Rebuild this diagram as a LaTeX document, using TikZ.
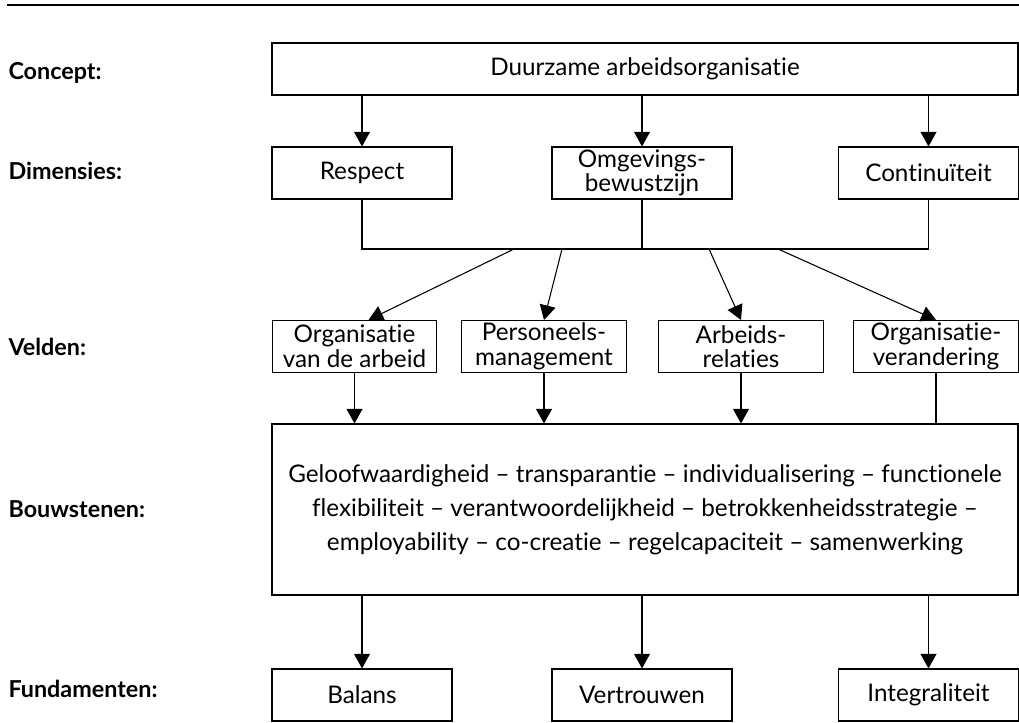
\documentclass[tikz,border=0pt]{standalone}
\usepackage{fontspec}
\setmainfont{Lato}[Ligatures=NoCommon]
\usetikzlibrary{arrows.meta,positioning}
\tikzset{
	box/.style={draw, line width=0.8pt, inner sep=1pt, minimum height=39pt, align=center},
	widebox/.style={box, minimum width=559.5pt},
	dimbox/.style={box, minimum width=135pt},
	veldbox/.style={box, minimum width=123.5pt},
	lbl/.style={anchor=base west, inner sep=0pt, font=\fontsize{17.5}{18}\selectfont\bfseries},
}
\begin{document}
\begin{tikzpicture}[x=0.75pt, y=-0.75pt, line width=0.8pt, font=\fontsize{18.2}{18.5}\selectfont,
	>={Triangle[length=11pt,width=12pt]}]
	\useasboundingbox (0,0) rectangle (1019,723);
	\draw [line width=1pt] (7,5) -- (1019,5);
	% rows
	\node [widebox] (concept) at (645,69) {Duurzame arbeidsorganisatie};
	\node [dimbox] (respect) at (362,173) {Respect};
	\node [dimbox] (omgeving) at (642,173) {Omgevings-\\bewustzijn};
	\node [dimbox] (continuiteit) at (928.5,173) {Continuïteit};
	\node [veldbox] (org) at (354.5,346.5) {Organisatie\\van de arbeid};
	\node [veldbox] (pers) at (544,346.5) {Personeels-\\management};
	\node [veldbox] (arb) at (741,346.5) {Arbeids-\\relaties};
	\node [veldbox] (orgver) at (936,346.5) {Organisatie-\\verandering};
	\node [widebox, minimum height=128.25pt, font=\fontsize{18.2}{25.5}\selectfont] (bouw) at (645,509.5)
		{Geloofwaardigheid -- transparantie -- individualisering -- functionele\\
		flexibiliteit -- verantwoordelijkheid -- betrokkenheidsstrategie --\\
		employability -- co-creatie -- regelcapaciteit -- samenwerking};
	\node [dimbox] (balans) at (362,695) {Balans};
	\node [dimbox] (vertrouwen) at (642,695) {Vertrouwen};
	\node [dimbox] (integraliteit) at (928.5,695) {Integraliteit};
	% labels
	\node [lbl] (lconcept) at (8,80) {Concept:};
	\node [lbl] (ldim) at (8,180) {Dimensies:};
	\node [lbl] (lvelden) at (8,355) {Velden:};
	\node [lbl] (lbouw) at (8,517) {Bouwstenen:};
	\node [lbl] (lfund) at (8,697) {Fundamenten:};
	% connectors
	\foreach \d in {respect, omgeving, continuiteit} {
		\draw [->] (concept.south -| \d.north) -- (\d.north);
	}
	\coordinate (bus) at (0,249);
	\draw (respect.south) |- (bus -| continuiteit) -- (continuiteit.south);
	\draw (omgeving.south) -- (omgeving.south |- bus);
	\coordinate (b1) at (514,249);
	\coordinate (b2) at (562,249);
	\coordinate (b3) at (709,249);
	\coordinate (b4) at (778,249);
	\draw [->] (b1) -- ([xshift=10.5pt]org.north);
	\draw [->] (b2) -- (pers.north);
	\draw [->] (b3) -- (arb.north);
	\draw [->] (b4) -- (orgver.north);
	\foreach \v in {org, pers, arb} {
		\draw [->] (\v.south) -- (\v.south |- bouw.north);
	}
	\draw (orgver.south) -- (orgver.south |- bouw.north);
	\foreach \f in {balans, vertrouwen, integraliteit} {
		\draw [->] (bouw.south -| \f.north) -- (\f.north);
	}
\end{tikzpicture}
\end{document}
